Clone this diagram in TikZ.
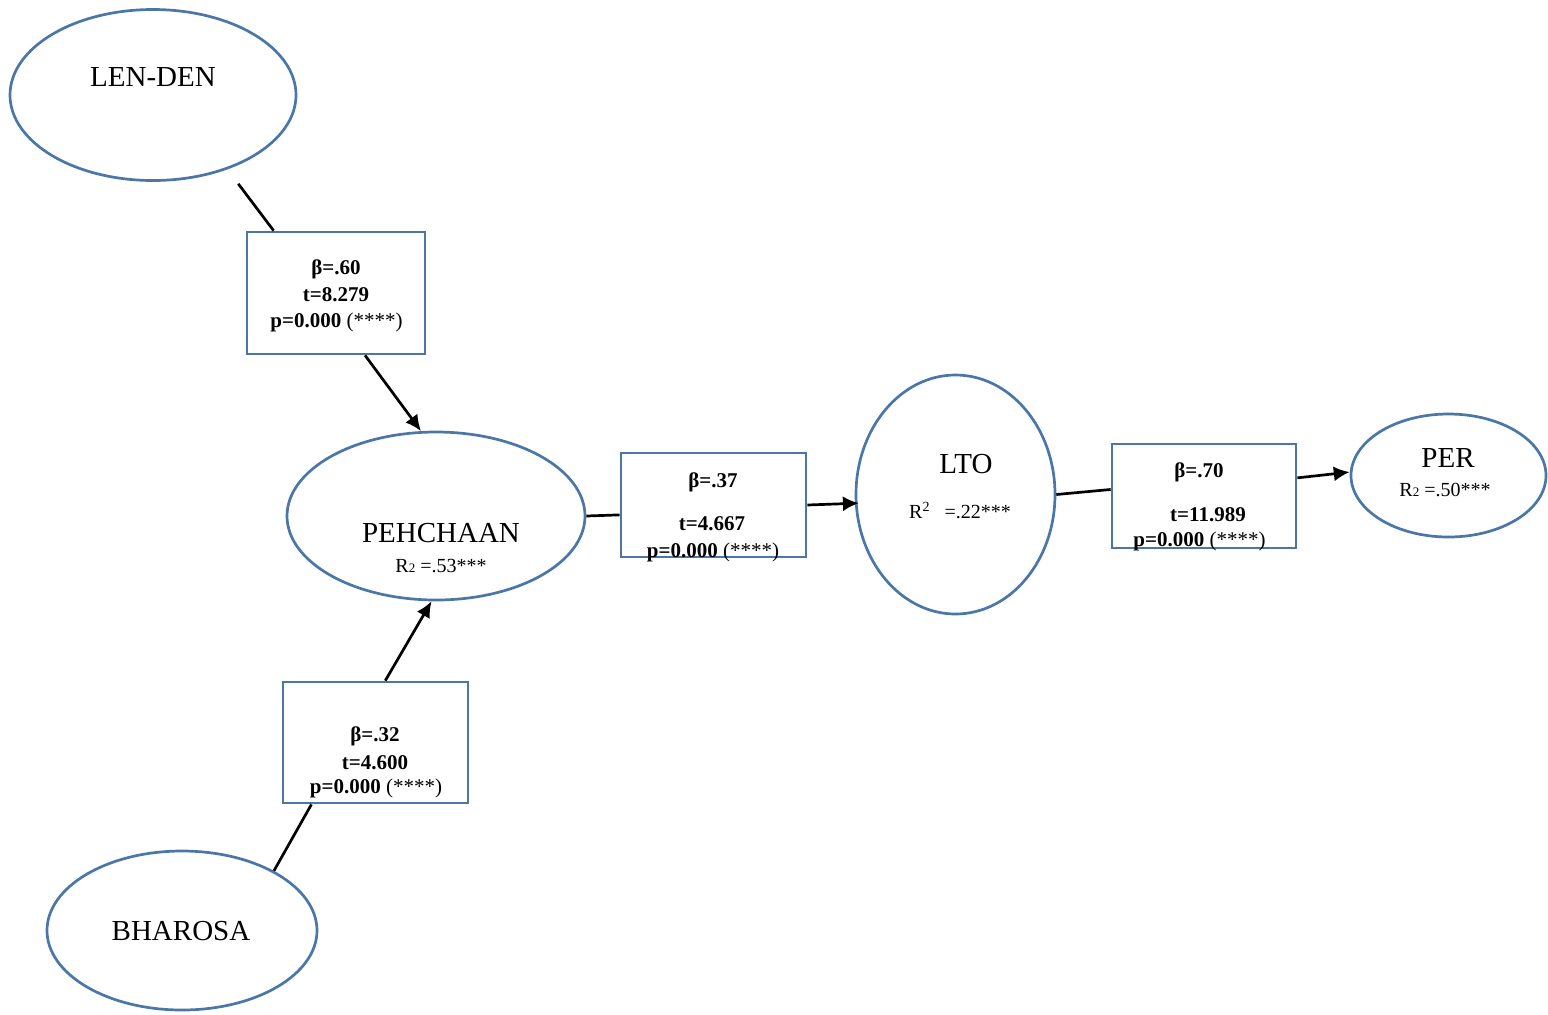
\documentclass[tikz,border=0pt]{standalone}
\usepackage{fontspec}
\setmainfont{Liberation Serif}
\usetikzlibrary{shapes.geometric,arrows.meta}
\definecolor{bord}{HTML}{4A76A8}
\begin{document}
\begin{tikzpicture}[x=0.5pt,y=-0.5pt,
  ell/.style={ellipse,draw=bord,line width=1.35pt,inner sep=0pt},
  box/.style={rectangle,draw=bord,line width=1.35pt,inner sep=0pt},
  nmtxt/.style={font=\fontsize{14.5}{16}\selectfont,inner sep=0pt,text height=9.6pt,text depth=0pt},
  stat/.style={font=\fontsize{10.5}{12}\selectfont\bfseries,inner sep=0pt,text height=7pt,text depth=0pt},
  rsq/.style={font=\fontsize{10}{12}\selectfont,inner sep=0pt,text height=6.6pt,text depth=0pt},
  conn/.style={line width=1.35pt},
  arr/.style={line width=1.35pt,-{Latex[length=8pt,width=7.5pt]}}]
\useasboundingbox (0,0) rectangle (1548,1014);
\newcommand{\pline}{p=0.000 {\mdseries(****)}}
\newcommand{\rsub}{R{\fontsize{6.5}{7}\selectfont 2}}
% ellipses
\node[ell,minimum width=143pt,minimum height=85.5pt] (lenden) at (153,95) {};
\node[ell,minimum width=149pt,minimum height=84pt] (peh) at (436,516) {};
\node[ell,minimum width=135pt,minimum height=79.5pt] (bharosa) at (182,930.5) {};
\node[ell,minimum width=99.5pt,minimum height=119.5pt] (lto) at (955.5,494.5) {};
\node[ell,minimum width=97.5pt,minimum height=61.5pt] (per) at (1448.5,475.5) {};
% boxes
\node[box,minimum width=89pt,minimum height=61pt] (box1) at (336,293) {};
\node[box,minimum width=92.5pt,minimum height=60.5pt] (box2) at (375.5,742.5) {};
\node[box,minimum width=92.5pt,minimum height=52pt] (box3) at (713.5,505) {};
\node[box,minimum width=92pt,minimum height=52pt] (box4) at (1204,496) {};
% texts
\node[nmtxt] (tlenden) at (153,77) {LEN-DEN};
\node[nmtxt] (tpeh) at (441,533) {PEHCHAAN};
\node[rsq] (rpeh) at (441,566) {\rsub\ =.53***};
\node[nmtxt] (tbharosa) at (181,931) {BHAROSA};
\node[nmtxt] (tlto) at (966,464) {LTO};
\node[rsq] (rlto) at (960,512) {R\textsuperscript{2}\hspace{7pt}=.22***};
\node[nmtxt] (tper) at (1448,458) {PER};
\node[rsq] (rper) at (1445,490) {\rsub\ =.50***};
\node[stat] (b1a) at (336,267) {β=.60};
\node[stat] (b1b) at (336,294) {t=8.279};
\node[stat] (b1c) at (336.5,320) {\pline};
\node[stat] (b2a) at (375,734) {β=.32};
\node[stat] (b2b) at (375,762) {t=4.600};
\node[stat] (b2c) at (376,786) {\pline};
\node[stat] (b3a) at (713,480) {β=.37};
\node[stat] (b3b) at (712,523) {t=4.667};
\node[stat] (b3c) at (713,550) {\pline};
\node[stat] (b4a) at (1199,470) {β=.70};
\node[stat] (b4b) at (1208,514) {t=11.989};
\node[stat] (b4c) at (1199.5,539) {\pline};
% connectors
\draw[conn,shorten >=9pt] (box1.135.9) -- (lenden.-45);
\draw[arr] (box1.-65.7) -- (peh.100.8);
\draw[conn] (bharosa.33.9) -- (box2.-136.4);
\draw[arr] (box2.81.2) -- (peh.-93.9);
\draw[conn] (peh.0) -- (box3.-174.4);
\draw[arr,shorten >=-2pt] (box3.0) -- (lto.185);
\draw[conn] (lto.0) -- (box4.176.9);
\draw[arr] (box4.11.7) -- (per.178);
\end{tikzpicture}
\end{document}
